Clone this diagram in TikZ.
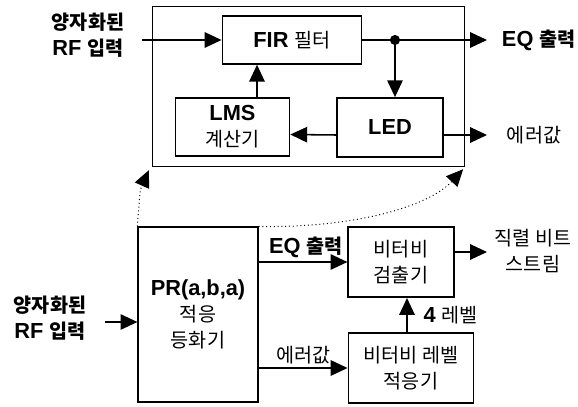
\documentclass[tikz,border=0pt]{standalone}
\usepackage{fontspec}
\setmainfont{Liberation Sans}
\newfontfamily\kr{Noto Sans CJK KR}[Scale=0.9]
\usetikzlibrary{arrows.meta, positioning, calc}

\begin{document}
\begin{tikzpicture}[
    x=0.025cm, y=-0.025cm,
    font=\fontsize{15.5}{18.5}\selectfont,
    blk/.style={draw, line width=1.2pt, align=center, inner sep=2pt},
    arr/.style={-{Triangle[length=12pt, width=11pt]}, line width=1.1pt},
    dotarr/.style={-{Triangle[length=12pt, width=11pt]}, dotted, line width=0.7pt},
    lbl/.style={align=center}]

  \useasboundingbox (0,0) rectangle (578,407);

  % detail of the adaptive equaliser
  \node[draw, line width=0.8pt, minimum width=222pt, minimum height=114pt] (frame) at (308.5,86.5) {};
  \node[blk, minimum width=99pt, minimum height=34pt] (fir) at (292,40) {\textbf{FIR} {\kr 필터}};
  \node[blk, minimum width=81pt, minimum height=41pt] (lms) at (232.5,127) {\textbf{LMS}\\{\kr 계산기}};
  \node[blk, minimum width=75pt, minimum height=42pt] (led) at (390,127.5) {\textbf{LED}};
  \fill (395,40) circle (3.6pt) coordinate (tap);

  \node[lbl] (inA) at (88,35) {{\kr\bfseries 양자화된}\\\textbf{RF} {\kr\bfseries 입력}};
  \coordinate (inAend) at (142,40);
  \coordinate (eqA) at (487,40);
  \coordinate (errA) at (487,135);
  \coordinate (ledE) at ($(led.east)+(0,7.5)$);
  \coordinate (ledW) at ($(led.west)+(0,7.5)$);
  \coordinate (lmsE) at ($(lms.east)+(0,7.5)$);
  \coordinate (lmsN) at ($(lms.north)+(24.5,0)$);
  \node[lbl, anchor=west] (eqAtxt) at (497,40) {\textbf{EQ} {\kr\bfseries 출력}};
  \node[lbl, anchor=west] (errAtxt) at (502,135) {{\kr 에러값}};

  \draw[arr] (inAend) -- (inAend -| fir.west);
  \draw[line width=1.1pt] (fir.east |- tap) -- (tap);
  \draw[arr] (tap) -- (eqA);
  \draw[arr] (tap) -- (tap |- led.north);
  \draw[arr] (ledE) -- (errA);
  \draw[arr] (ledW) -- (lmsE);
  \draw[arr] (lmsN) -- (lmsN |- fir.south);

  % receiver chain
  \node[blk, minimum width=85pt, minimum height=124pt] (pr) at (198,314.5) {\textbf{PR(a,b,a)}\\{\kr 적응}\\{\kr 등화기}};
  \node[blk, minimum width=75pt, minimum height=50pt] (det) at (401,262) {{\kr 비터비}\\{\kr 검출기}};
  \node[blk, minimum width=89pt, minimum height=50pt] (lvl) at (411,368) {{\kr 비터비 레벨}\\{\kr 적응기}};

  \node[lbl] (inB) at (50,318) {{\kr\bfseries 양자화된}\\\textbf{RF} {\kr\bfseries 입력}};
  \coordinate (inBend) at (105,322);
  \coordinate (outB) at (487,252);
  \coordinate (detE) at ($(det.east)+(0,-10)$);
  \coordinate (lvlN) at ($(lvl.north)+(-4,0)$);
  \node[lbl] (outBtxt) at (533,251) {{\kr 직렬 비트}\\{\kr 스트림}};

  \draw[arr] (inBend) -- (inBend -| pr.west);
  \draw[arr] (pr.east |- det.west) -- node[above, yshift=-1pt, xshift=2pt] {\textbf{EQ} {\kr\bfseries 출력}} (det.west);
  \draw[arr] (pr.east |- lvl.west) -- node[above, yshift=-1pt] {{\kr 에러값}} (lvl.west);
  \draw[arr] (detE) -- (outB);
  \draw[arr] (lvlN) -- node[right, xshift=8pt] {\textbf{4} {\kr 레벨}} (lvlN |- det.south);

  % zoom marks
  \draw[dotarr] (pr.north west) .. controls (140,190) .. ($(frame.south west)+(-3,3)$);
  \draw[dotarr] (pr.north east) .. controls (360,228) and (430,205) .. ($(frame.south east)+(-2,2)$);
\end{tikzpicture}
\end{document}
